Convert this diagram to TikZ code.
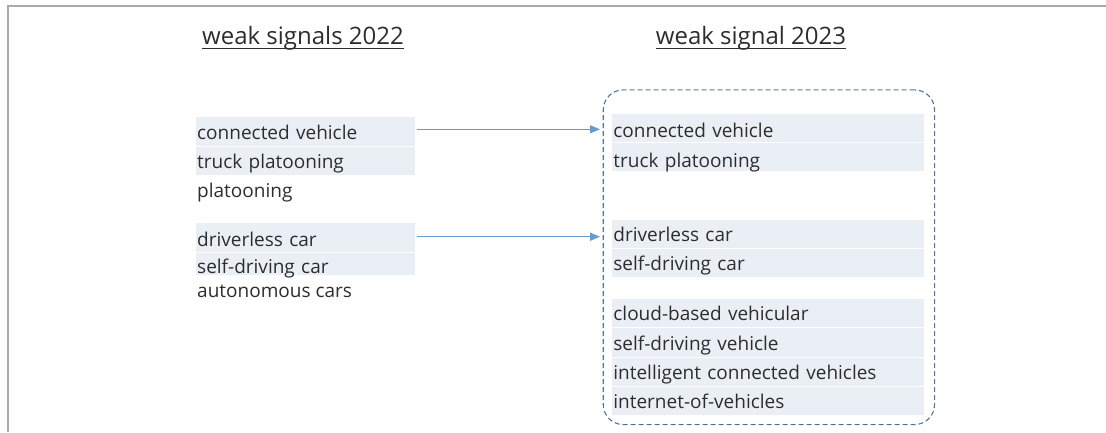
\documentclass[tikz,border=0pt]{standalone}
\usepackage{fontspec}
\setmainfont{Open Sans}
\usetikzlibrary{arrows.meta}
\definecolor{framec}{RGB}{170,170,170}
\definecolor{rowc}{RGB}{234,239,246}
\definecolor{txtc}{RGB}{45,45,45}
\definecolor{arrc}{RGB}{100,155,210}
\definecolor{dashc}{RGB}{80,118,160}
\tikzset{
  rowbox/.style 2 args={fill=rowc, anchor=north west, inner xsep=1.5pt, inner ysep=0pt,
    text width=#1, align=left, text height=#2, font=\fontsize{19}{22}\selectfont, text=txtc},
  plainrow/.style={anchor=base west, inner sep=0pt, font=\fontsize{19}{22}\selectfont, text=txtc},
  title/.style={anchor=base, inner sep=0pt, font=\fontsize{24}{28}\selectfont, text=txtc},
  conn/.style={draw=arrc, line width=1.5pt, -{Triangle[length=10pt,width=8pt]}},
  group/.style={draw=dashc, dash pattern=on 5pt off 3pt, line width=1.1pt, rounded corners=20pt}
}
\begin{document}
\begin{tikzpicture}[x=1pt,y=-1pt]
\useasboundingbox (0,0) rectangle (1106,432);
\draw[framec, line width=2pt] (7.5,432) -- (7.5,6) -- (1106,6);
% titles
\node[title] (t1) at (303,44) {weak signals 2022};
\node[title] (t2) at (751,44) {weak signal 2023};
\draw[txtc, line width=1.3pt] ([yshift=-4.3pt]t1.base west) -- ([yshift=-4.3pt]t1.base east);
\draw[txtc, line width=1.3pt] ([yshift=-4.3pt]t2.base west) -- ([yshift=-4.3pt]t2.base east);
% left column
\node[rowbox={216.5pt}{22.3pt}, text depth=6.7pt] (l1) at (195.5,117) {connected vehicle};
\node[rowbox={216.5pt}{21.6pt}, text depth=6.7pt] (l2) at (195.5,146.7) {truck platooning};
\node[plainrow] (l3) at (197,197.7) {platooning};
\node[rowbox={216.5pt}{23.7pt}, text depth=6pt] (l4) at (195.5,222.3) {driverless car};
\node[rowbox={216.5pt}{20.6pt}, text depth=1.7pt] (l5) at (195.5,252.7) {self-driving car};
\node[plainrow] (l6) at (197,297) {autonomous cars};
% right column
\node[rowbox={308.6pt}{23.3pt}, text depth=4.7pt] (r1) at (611.7,114) {connected vehicle};
\node[rowbox={308.6pt}{24.6pt}, text depth=3.4pt] (r2) at (611.7,142.7) {truck platooning};
\node[rowbox={308.6pt}{21.7pt}, text depth=6.3pt] (r3) at (611.7,220) {driverless car};
\node[rowbox={308.6pt}{21.3pt}, text depth=6.7pt] (r4) at (611.7,248.7) {self-driving car};
\node[rowbox={308.6pt}{22.4pt}, text depth=6pt] (r5) at (611.7,298.3) {cloud-based vehicular};
\node[rowbox={308.6pt}{22.7pt}, text depth=6.7pt] (r6) at (611.7,327.3) {self-driving vehicle};
\node[rowbox={308.6pt}{22pt}, text depth=6.7pt] (r7) at (611.7,357.3) {intelligent connected vehicles};
\node[rowbox={308.6pt}{21.6pt}, text depth=6.7pt] (r8) at (611.7,386.7) {internet-of-vehicles};
% group
\node[group, inner sep=0pt, minimum width=331.3pt, minimum height=334.7pt, anchor=north west] (grp) at (602.7,89.3) {};
% connectors
\coordinate (a1) at (600,129.3);
\coordinate (a2) at (600,236.7);
\draw[conn] ([xshift=2pt]l1.east |- a1) -- (a1);
\draw[conn] ([xshift=2pt]l4.east |- a2) -- (a2);
\end{tikzpicture}
\end{document}
